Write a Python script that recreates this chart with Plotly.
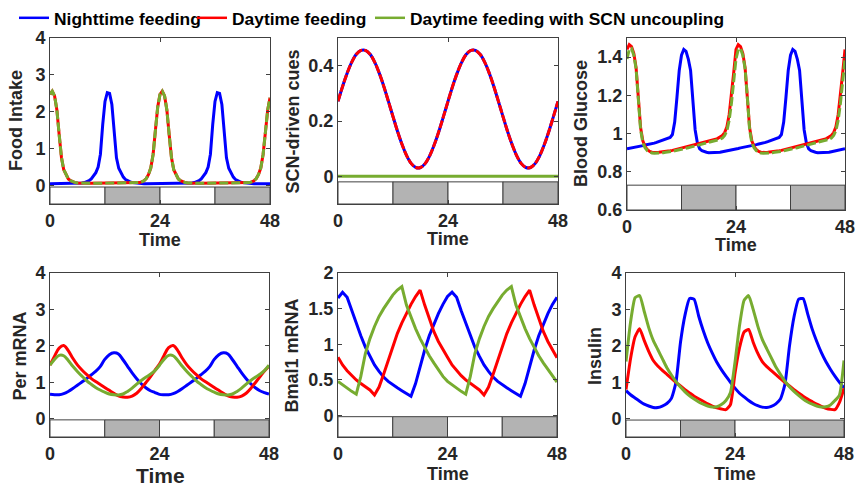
import plotly.graph_objects as go

# ---------------- data ----------------
t_half = [i * 0.5 for i in range(97)]   # 0..48 h, 0.5 h step
t_hour = list(range(49))                # 0..48 h, 1 h step

food_blue = [
    0.05, 0.05, 0.05, 0.05, 0.05, 0.05, 0.05, 0.05, 0.05, 0.05, 0.05, 0.05,
    0.05, 0.06, 0.07, 0.08, 0.10, 0.13, 0.18, 0.25, 0.35, 0.50, 0.85, 1.65,
    2.28, 2.52, 2.50, 2.20, 1.50, 0.75, 0.47, 0.33, 0.23, 0.16, 0.12, 0.10,
    0.08, 0.07, 0.06, 0.05, 0.05, 0.05, 0.05, 0.05, 0.05, 0.05, 0.05, 0.05,
    0.05, 0.05, 0.05, 0.05, 0.05, 0.05, 0.05, 0.05, 0.05, 0.05, 0.05, 0.05,
    0.05, 0.06, 0.07, 0.08, 0.10, 0.13, 0.18, 0.25, 0.35, 0.50, 0.85, 1.65,
    2.28, 2.52, 2.50, 2.20, 1.50, 0.75, 0.47, 0.33, 0.23, 0.16, 0.12, 0.10,
    0.08, 0.07, 0.06, 0.05, 0.05, 0.05, 0.05, 0.05, 0.05, 0.05, 0.05, 0.05,
    0.05]
food_red = [
    2.47, 2.56, 2.43, 2.05, 1.38, 0.76, 0.43, 0.28, 0.18, 0.13, 0.10, 0.08,
    0.07, 0.065, 0.06, 0.06, 0.06, 0.06, 0.06, 0.06, 0.06, 0.06, 0.06, 0.06,
    0.06, 0.06, 0.06, 0.06, 0.06, 0.06, 0.06, 0.06, 0.06, 0.06, 0.06, 0.06,
    0.06, 0.065, 0.07, 0.08, 0.10, 0.13, 0.19, 0.30, 0.48, 0.85, 1.50, 2.13,
    2.47, 2.56, 2.43, 2.05, 1.38, 0.76, 0.43, 0.28, 0.18, 0.13, 0.10, 0.08,
    0.07, 0.065, 0.06, 0.06, 0.06, 0.06, 0.06, 0.06, 0.06, 0.06, 0.06, 0.06,
    0.06, 0.06, 0.06, 0.06, 0.06, 0.06, 0.06, 0.06, 0.06, 0.06, 0.06, 0.06,
    0.06, 0.065, 0.07, 0.08, 0.10, 0.13, 0.19, 0.30, 0.48, 0.85, 1.45, 2.05,
    2.38]
food_green = list(food_red)

scn_blue = [
    0.271, 0.325, 0.373, 0.413, 0.441, 0.455, 0.455, 0.441, 0.413, 0.373, 0.325, 0.271,
    0.216, 0.162, 0.114, 0.074, 0.046, 0.032, 0.032, 0.046, 0.074, 0.114, 0.162, 0.216,
    0.271, 0.325, 0.373, 0.413, 0.441, 0.455, 0.455, 0.441, 0.413, 0.373, 0.325, 0.271,
    0.216, 0.162, 0.114, 0.074, 0.046, 0.032, 0.032, 0.046, 0.074, 0.114, 0.162, 0.216,
    0.271]
scn_red = list(scn_blue)
scn_green = [0.0] * 49

glu_blue = [
    0.920, 0.922, 0.925, 0.927, 0.930, 0.932, 0.935, 0.937, 0.940, 0.942, 0.945, 0.947,
    0.950, 0.954, 0.958, 0.962, 0.965, 0.968, 0.972, 0.980, 0.995, 1.060, 1.190, 1.330,
    1.410, 1.440, 1.430, 1.390, 1.330, 1.150, 1.020, 0.950, 0.920, 0.910, 0.905, 0.902,
    0.900, 0.900, 0.900, 0.900, 0.900, 0.902, 0.905, 0.907, 0.910, 0.913, 0.916, 0.918,
    0.920, 0.922, 0.925, 0.927, 0.930, 0.932, 0.935, 0.937, 0.940, 0.942, 0.945, 0.947,
    0.950, 0.954, 0.958, 0.962, 0.965, 0.968, 0.972, 0.980, 0.995, 1.060, 1.190, 1.330,
    1.410, 1.440, 1.430, 1.390, 1.330, 1.150, 1.020, 0.950, 0.920, 0.910, 0.905, 0.902,
    0.900, 0.900, 0.900, 0.900, 0.900, 0.902, 0.905, 0.907, 0.910, 0.913, 0.916, 0.918,
    0.920]
glu_red = [
    1.440, 1.465, 1.455, 1.420, 1.345, 1.200, 1.030, 0.960, 0.932, 0.915, 0.906, 0.902,
    0.900, 0.901, 0.902, 0.903, 0.905, 0.907, 0.908, 0.910, 0.912, 0.915, 0.917, 0.920,
    0.922, 0.925, 0.928, 0.931, 0.934, 0.937, 0.940, 0.943, 0.946, 0.949, 0.952, 0.955,
    0.958, 0.962, 0.965, 0.970, 0.975, 0.982, 0.990, 1.005, 1.035, 1.100, 1.200, 1.320,
    1.440, 1.465, 1.455, 1.420, 1.345, 1.200, 1.030, 0.960, 0.932, 0.915, 0.906, 0.902,
    0.900, 0.901, 0.902, 0.903, 0.905, 0.907, 0.908, 0.910, 0.912, 0.915, 0.917, 0.920,
    0.922, 0.925, 0.928, 0.931, 0.934, 0.937, 0.940, 0.943, 0.946, 0.949, 0.952, 0.955,
    0.958, 0.962, 0.965, 0.970, 0.975, 0.982, 0.990, 1.005, 1.035, 1.100, 1.200, 1.320,
    1.440]
glu_green = [
    1.390, 1.440, 1.445, 1.410, 1.340, 1.190, 1.020, 0.950, 0.925, 0.910, 0.902, 0.898,
    0.897, 0.897, 0.898, 0.899, 0.900, 0.902, 0.903, 0.905, 0.907, 0.910, 0.912, 0.915,
    0.917, 0.920, 0.923, 0.926, 0.929, 0.932, 0.935, 0.938, 0.940, 0.943, 0.946, 0.949,
    0.952, 0.955, 0.958, 0.962, 0.965, 0.970, 0.977, 0.990, 1.015, 1.070, 1.160, 1.280,
    1.390, 1.440, 1.445, 1.410, 1.340, 1.190, 1.020, 0.950, 0.925, 0.910, 0.902, 0.898,
    0.897, 0.897, 0.898, 0.899, 0.900, 0.902, 0.903, 0.905, 0.907, 0.910, 0.912, 0.915,
    0.917, 0.920, 0.923, 0.926, 0.929, 0.932, 0.935, 0.938, 0.940, 0.943, 0.946, 0.949,
    0.952, 0.955, 0.958, 0.962, 0.965, 0.970, 0.977, 0.990, 1.015, 1.070, 1.160, 1.280,
    1.390]

per_blue = [
    0.67, 0.66, 0.66, 0.69, 0.75, 0.83, 0.92, 1.01, 1.10, 1.20, 1.30, 1.43,
    1.63, 1.76, 1.81, 1.78, 1.62, 1.44, 1.26, 1.10, 0.96, 0.85, 0.77, 0.72,
    0.67, 0.66, 0.66, 0.69, 0.75, 0.83, 0.92, 1.01, 1.10, 1.20, 1.30, 1.43,
    1.63, 1.76, 1.81, 1.78, 1.62, 1.44, 1.26, 1.10, 0.96, 0.85, 0.77, 0.72,
    0.68]
per_red = [
    1.47, 1.72, 1.94, 2.01, 1.87, 1.66, 1.48, 1.34, 1.22, 1.11, 1.02, 0.94,
    0.86, 0.78, 0.70, 0.63, 0.60, 0.59, 0.62, 0.70, 0.83, 0.99, 1.15, 1.33,
    1.50, 1.74, 1.95, 2.01, 1.87, 1.66, 1.48, 1.34, 1.22, 1.11, 1.02, 0.94,
    0.86, 0.78, 0.70, 0.63, 0.60, 0.59, 0.62, 0.70, 0.83, 0.99, 1.15, 1.31,
    1.45]
per_green = [
    1.47, 1.63, 1.74, 1.73, 1.60, 1.44, 1.30, 1.17, 1.05, 0.95, 0.86, 0.79,
    0.73, 0.68, 0.66, 0.655, 0.68, 0.75, 0.84, 0.95, 1.05, 1.14, 1.22, 1.32,
    1.47, 1.63, 1.74, 1.73, 1.60, 1.44, 1.30, 1.17, 1.05, 0.95, 0.86, 0.79,
    0.73, 0.68, 0.66, 0.655, 0.68, 0.75, 0.84, 0.95, 1.05, 1.14, 1.22, 1.32,
    1.47]

bmal_blue = [
    1.65, 1.73, 1.66, 1.47, 1.30, 1.12, 0.96, 0.83, 0.71, 0.62, 0.54, 0.48,
    0.43, 0.39, 0.35, 0.31, 0.27, 0.45, 0.70, 0.92, 1.12, 1.28, 1.43, 1.56,
    1.67, 1.73, 1.66, 1.47, 1.30, 1.12, 0.96, 0.83, 0.71, 0.62, 0.54, 0.48,
    0.43, 0.39, 0.35, 0.31, 0.27, 0.45, 0.70, 0.92, 1.12, 1.28, 1.43, 1.56,
    1.66]
bmal_red = [
    0.82, 0.71, 0.63, 0.56, 0.50, 0.45, 0.40, 0.36, 0.29, 0.40, 0.58, 0.78,
    0.98, 1.15, 1.30, 1.44, 1.56, 1.67, 1.76, 1.55, 1.35, 1.18, 1.04, 0.92,
    0.82, 0.71, 0.63, 0.56, 0.50, 0.45, 0.40, 0.36, 0.29, 0.40, 0.58, 0.78,
    0.98, 1.15, 1.30, 1.44, 1.56, 1.67, 1.76, 1.55, 1.35, 1.18, 1.04, 0.92,
    0.81]
bmal_green = [
    0.48, 0.43, 0.38, 0.34, 0.30, 0.55, 0.87, 1.08, 1.25, 1.39, 1.50, 1.60,
    1.69, 1.76, 1.81, 1.55, 1.38, 1.22, 1.08, 0.95, 0.84, 0.74, 0.65, 0.55,
    0.48, 0.43, 0.38, 0.34, 0.30, 0.55, 0.87, 1.08, 1.25, 1.39, 1.50, 1.60,
    1.69, 1.76, 1.81, 1.55, 1.38, 1.22, 1.08, 0.95, 0.84, 0.74, 0.65, 0.55,
    0.47]

ins_blue = [
    0.77, 0.66, 0.57, 0.48, 0.40, 0.35, 0.31, 0.31, 0.35, 0.42, 0.56, 1.00,
    2.10, 2.85, 3.30, 3.28, 2.82, 2.42, 2.08, 1.80, 1.55, 1.35, 1.17, 1.00,
    0.84, 0.70, 0.60, 0.50, 0.42, 0.36, 0.32, 0.31, 0.34, 0.41, 0.54, 0.95,
    2.00, 2.80, 3.28, 3.30, 2.88, 2.46, 2.12, 1.82, 1.57, 1.36, 1.17, 1.00,
    0.85]
ins_red = [
    0.80, 1.65, 2.25, 2.47, 2.15, 1.85, 1.60, 1.45, 1.33, 1.22, 1.11, 1.00,
    0.90, 0.80, 0.71, 0.62, 0.55, 0.48, 0.41, 0.35, 0.30, 0.27, 0.25, 0.39,
    1.25, 1.95, 2.38, 2.45, 2.10, 1.80, 1.57, 1.43, 1.32, 1.21, 1.10, 1.00,
    0.90, 0.80, 0.71, 0.62, 0.54, 0.47, 0.40, 0.34, 0.29, 0.26, 0.25, 0.45,
    0.84]
ins_green = [
    1.57, 2.65, 3.32, 3.38, 2.95, 2.50, 2.15, 1.90, 1.65, 1.40, 1.20, 1.02,
    0.87, 0.74, 0.63, 0.54, 0.46, 0.40, 0.35, 0.32, 0.33, 0.39, 0.50, 0.72,
    1.55, 2.56, 3.25, 3.38, 3.00, 2.55, 2.18, 1.92, 1.67, 1.42, 1.22, 1.03,
    0.88, 0.75, 0.64, 0.54, 0.46, 0.40, 0.35, 0.32, 0.33, 0.38, 0.50, 0.65,
    1.60]

series_names = ["Nighttime feeding", "Daytime feeding", "Daytime feeding with SCN uncoupling"]
y_titles = ["Food Intake", "SCN-driven cues", "Blood Glucose", "Per mRNA", "Bmal1 mRNA", "Insulin"]
x_ticks = [0, 24, 48]
y_ticks = [[0, 1, 2, 3, 4], [0, 0.2, 0.4], [0.6, 0.8, 1, 1.2, 1.4],
           [0, 1, 2, 3, 4], [0, 0.5, 1, 1.5, 2], [0, 1, 2, 3, 4]]
y_ranges = [[-0.5, 4], [-0.1, 0.5], [0.6, 1.5], [-0.5, 4], [-0.3, 2], [-0.5, 4]]
strip_tops = [-0.04, -0.02, 0.73, -0.03, -0.015, -0.035]
period_start = [0, 12, 24, 36]
period_end = [12, 24, 36, 48]
period_dark = [False, True, False, True]

# ---------------- style / layout ----------------
W, H = 857, 488
BLUE, RED, GREEN = "#0000ff", "#ff0000", "#77ac30"
TXT = "#262626"
FONT = "Liberation Sans, Arial, Helvetica, sans-serif"
LW = 3

# panel boxes in pixels: (left, right, top, bottom)
boxes = [(50, 270, 38, 204), (338, 558, 38, 204), (627, 845, 38, 210),
         (50, 269, 273, 437), (338, 557, 273, 437), (626, 844, 273, 437)]

fig = go.Figure()

def add(i, x, y, color, dash="solid", shape="linear", smooth=1.0):
    sfx = "" if i == 0 else str(i + 1)
    line = dict(color=color, width=LW, dash=dash, shape=shape)
    if shape == "spline":
        line["smoothing"] = smooth
    fig.add_trace(go.Scatter(x=x, y=y, mode="lines", xaxis="x" + sfx, yaxis="y" + sfx,
                             line=line, showlegend=False, hoverinfo="skip"))

GD = "9px,3px"
add(0, t_half, food_blue, BLUE)
add(0, t_half, food_red, RED)
add(0, t_half, food_green, GREEN, GD)
add(1, t_hour, scn_blue, BLUE, shape="spline")
add(1, t_hour, scn_red, RED, "8px,2px", shape="spline")
add(1, t_hour, scn_green, GREEN)
add(2, t_half, glu_blue, BLUE)
add(2, t_half, glu_red, RED)
add(2, t_half, glu_green, GREEN, GD)
add(3, t_hour, per_blue, BLUE, shape="spline")
add(3, t_hour, per_red, RED, shape="spline")
add(3, t_hour, per_green, GREEN, shape="spline")
add(4, t_hour, bmal_blue, BLUE)
add(4, t_hour, bmal_red, RED)
add(4, t_hour, bmal_green, GREEN)
add(5, t_hour, ins_blue, BLUE, shape="spline", smooth=0.5)
add(5, t_hour, ins_red, RED, shape="spline", smooth=0.5)
add(5, t_hour, ins_green, GREEN, shape="spline", smooth=0.5)

# legend entries (one legend per entry for exact placement)
leg_colors = [BLUE, RED, GREEN]
leg_item_px = [14, 192, 370]
for k in range(3):
    lg = "legend" if k == 0 else "legend" + str(k + 1)
    fig.add_trace(go.Scatter(x=[None], y=[None], mode="lines", name=series_names[k],
                             line=dict(color=leg_colors[k], width=2.5), legend=lg,
                             showlegend=True))

layout = dict(width=W, height=H, margin=dict(l=0, r=0, t=0, b=0, autoexpand=False),
              paper_bgcolor="white", plot_bgcolor="white",
              font=dict(family=FONT, color=TXT))
for k in range(3):
    lg = "legend" if k == 0 else "legend" + str(k + 1)
    layout[lg] = dict(x=leg_item_px[k] / W, y=1 - 18 / H, xanchor="left", yanchor="middle",
                      orientation="h", bgcolor="rgba(0,0,0,0)", borderwidth=0,
                      itemwidth=30, font=dict(size=17.4, family=FONT, color="black", weight="bold"))

shapes, annotations = [], []
for i, (l, r, t, b) in enumerate(boxes):
    sfx = "" if i == 0 else str(i + 1)
    layout["xaxis" + sfx] = dict(
        domain=[l / W, r / W], anchor="y" + sfx, range=[0, 48], tickvals=x_ticks,
        showgrid=False, zeroline=False, showline=True, mirror="ticks", linecolor="#404040",
        linewidth=1, ticks="inside", ticklen=4, tickcolor="#404040", automargin=False,
        tickfont=dict(size=18, family=FONT, color=TXT, weight="bold"))
    layout["yaxis" + sfx] = dict(
        domain=[1 - b / H, 1 - t / H], anchor="x" + sfx, range=y_ranges[i], tickvals=y_ticks[i],
        showgrid=False, zeroline=False, showline=True, mirror="ticks", linecolor="#404040",
        linewidth=1, ticks="inside", ticklen=4, tickcolor="#404040", automargin=False,
        tickfont=dict(size=18, family=FONT, color=TXT, weight="bold"))
    for s, e, dark in zip(period_start, period_end, period_dark):
        shapes.append(dict(type="rect", xref="x" + sfx, yref="y" + sfx, x0=s, x1=e,
                           y0=y_ranges[i][0], y1=strip_tops[i], layer="below",
                           fillcolor="#b3b3b3" if dark else "white",
                           line=dict(color="#404040", width=1)))

ytitle_pos = [(16, 121), (292.5, 122), (581, 124), (19.5, 356), (291.5, 356), (595, 356)]
for i, (px, py) in enumerate(ytitle_pos):
    annotations.append(dict(text=y_titles[i], textangle=-90, xref="paper", yref="paper",
                            x=px / W, y=1 - py / H, xanchor="center", yanchor="middle",
                            showarrow=False, font=dict(size=18, family=FONT, color=TXT, weight="bold")))
xtitle_pos = [(160, 240, 18), (448, 238.5, 18), (736, 245, 18),
              (447.5, 474, 18), (735, 474, 18)]
for (px, py, fs) in xtitle_pos:
    annotations.append(dict(text="Time", xref="paper", yref="paper",
                            x=px / W, y=1 - py / H, xanchor="center", yanchor="middle",
                            showarrow=False, font=dict(size=fs, family=FONT, color=TXT, weight="bold")))
# larger x-axis title of the Per mRNA panel, kept fully inside the page
annotations.append(dict(text="Time", xref="paper", yref="paper", x=160 / W, y=0,
                        xanchor="center", yanchor="bottom", showarrow=False, borderpad=0,
                        font=dict(size=21, family=FONT, color=TXT, weight="bold")))

layout["shapes"] = shapes
layout["annotations"] = annotations
fig.update_layout(**layout)

fig.write_html("out.html", config={"displayModeBar": False},
               post_script="document.body.style.margin='0';")
